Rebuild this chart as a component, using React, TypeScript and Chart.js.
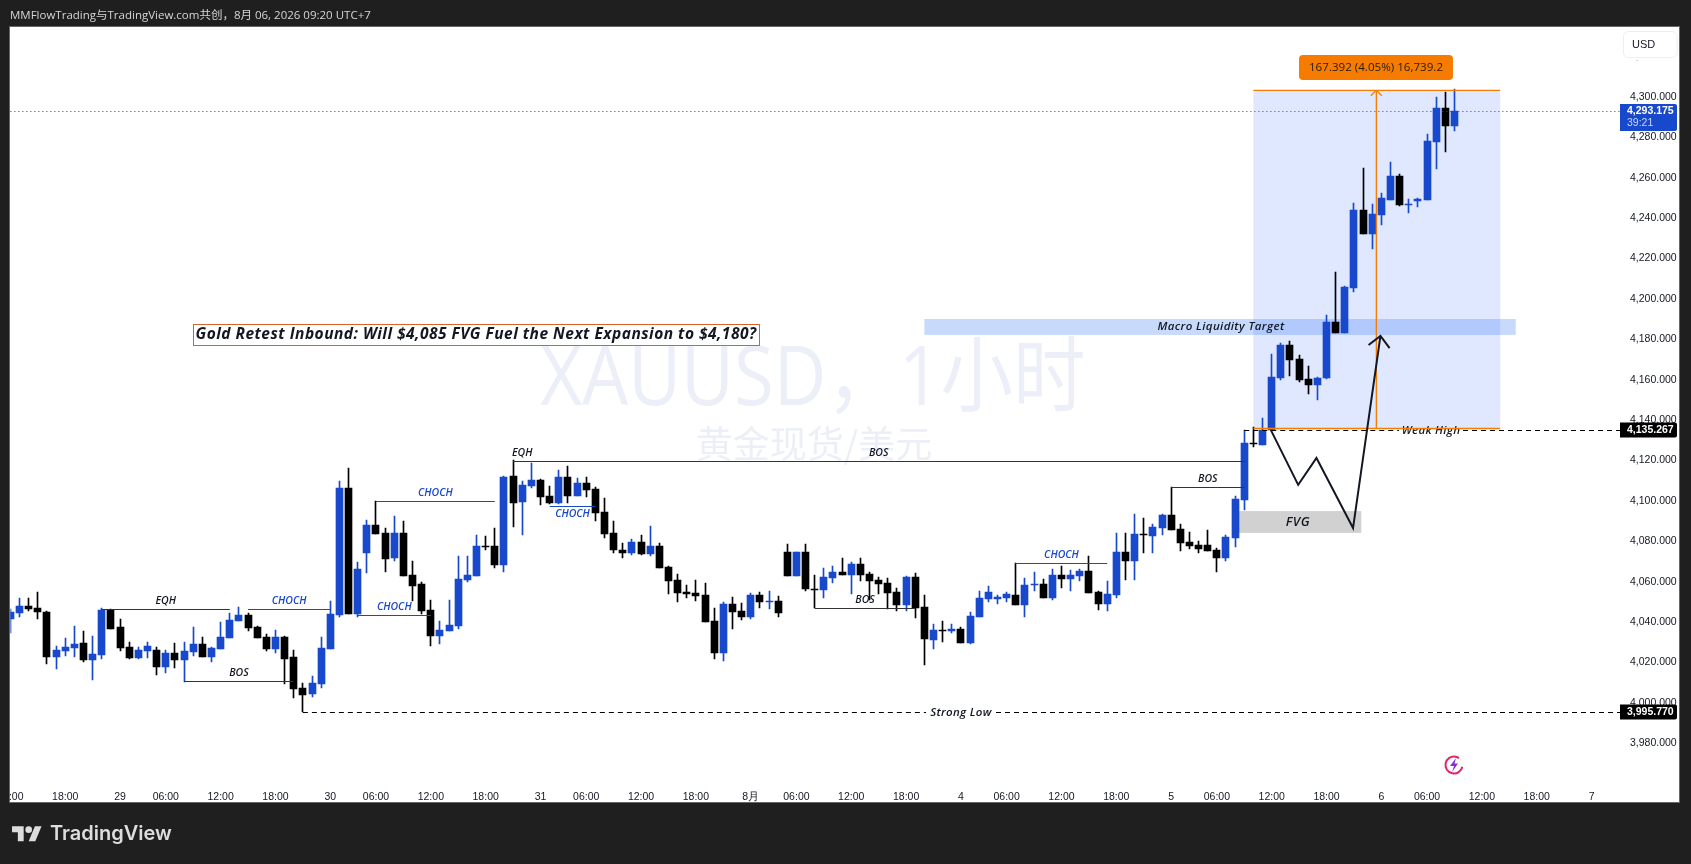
import React, { useEffect, useRef } from 'react';
import { Chart, registerables } from 'chart.js';

Chart.register(...registerables);

const opens = [
  4041.6, 4044.6, 4048.0, 4047.0, 4045.0, 4022.8, 4025.7, 4027.2, 4029.7, 4021.3,
  4023.8, 4046.0, 4037.6, 4027.7, 4022.3, 4025.7, 4026.2, 4017.8, 4024.8, 4021.3,
  4025.3, 4029.2, 4022.8, 4026.7, 4032.2, 4040.6, 4043.6, 4037.6, 4032.7, 4026.7,
  4032.7, 4022.8, 4007.4, 4004.5, 4009.4, 4026.7, 4043.6, 4106.4, 4044.1, 4074.3,
  4088.1, 4084.2, 4071.8, 4084.2, 4063.4, 4058.9, 4046.0, 4033.2, 4035.7, 4038.1,
  4060.9, 4062.9, 4077.4, 4077.7, 4068.3, 4112.4, 4099.5, 4107.4, 4110.4, 4102.5,
  4099.0, 4111.9, 4102.5, 4108.9, 4106.0, 4094.6, 4084.2, 4075.8, 4074.3, 4079.7,
  4073.8, 4077.7, 4067.3, 4060.9, 4055.0, 4054.5, 4053.5, 4040.6, 4024.8, 4049.0,
  4045.6, 4042.6, 4053.5, 4050.0, 4050.5, 4074.8, 4062.9, 4074.8, 4056.6, 4056.0,
  4061.9, 4064.9, 4063.4, 4068.8, 4063.9, 4060.9, 4059.4, 4054.9, 4048.5, 4062.4,
  4047.5, 4031.2, 4035.8, 4035.7, 4036.6, 4029.7, 4042.6, 4051.5, 4051.5, 4052.0,
  4053.5, 4048.5, 4058.4, 4058.9, 4052.0, 4063.4, 4061.4, 4062.9, 4065.4, 4054.9,
  4049.0, 4053.5, 4074.8, 4070.3, 4083.5, 4082.7, 4086.7, 4093.1, 4086.2, 4079.8,
  4078.3, 4078.3, 4075.8, 4071.8, 4081.7, 4100.5, 4128.4, 4127.7, 4135.2, 4160.9,
  4177.2, 4170.3, 4160.4, 4157.4, 4160.9, 4188.6, 4183.2, 4205.4, 4244.1, 4232.2,
  4241.6, 4249.0, 4260.9, 4246.5, 4248.5, 4249.0, 4277.7, 4294.5, 4285.6,
];
const highs = [
  4046.5, 4052.0, 4052.0, 4055.0, 4045.5, 4028.2, 4032.2, 4038.1, 4035.7, 4033.2,
  4046.9, 4046.5, 4041.6, 4030.2, 4027.7, 4030.2, 4027.7, 4026.2, 4029.7, 4030.2,
  4037.6, 4032.7, 4027.7, 4040.1, 4044.6, 4047.5, 4044.6, 4038.1, 4034.2, 4036.2,
  4033.2, 4026.2, 4009.9, 4013.4, 4032.7, 4050.5, 4109.9, 4116.3, 4069.8, 4090.6,
  4100.2, 4086.6, 4092.6, 4090.1, 4070.3, 4059.9, 4051.0, 4040.6, 4051.0, 4072.8,
  4072.8, 4083.2, 4082.7, 4086.6, 4112.4, 4120.1, 4109.9, 4118.8, 4110.9, 4107.4,
  4115.4, 4117.3, 4111.4, 4111.9, 4106.9, 4101.5, 4090.1, 4079.2, 4081.2, 4083.2,
  4087.6, 4079.2, 4067.8, 4063.9, 4058.4, 4060.9, 4059.4, 4047.0, 4050.0, 4052.5,
  4049.5, 4054.5, 4055.0, 4055.5, 4053.0, 4078.7, 4074.8, 4078.7, 4063.4, 4066.8,
  4067.8, 4071.8, 4069.8, 4071.8, 4064.9, 4062.4, 4061.9, 4056.9, 4062.9, 4064.4,
  4053.5, 4039.1, 4040.6, 4039.1, 4037.6, 4045.0, 4055.5, 4057.9, 4053.5, 4055.0,
  4069.3, 4061.9, 4064.9, 4061.4, 4066.3, 4067.8, 4065.9, 4066.3, 4072.8, 4055.5,
  4060.4, 4084.2, 4084.2, 4093.6, 4091.6, 4088.7, 4093.6, 4106.8, 4088.7, 4084.7,
  4080.3, 4085.7, 4076.8, 4083.2, 4102.5, 4135.2, 4136.6, 4141.1, 4172.8, 4178.2,
  4179.2, 4172.3, 4166.8, 4161.4, 4192.1, 4213.4, 4206.4, 4247.5, 4264.8, 4247.0,
  4252.5, 4267.8, 4261.9, 4249.5, 4250.0, 4281.7, 4300.0, 4302.5, 4304.0,
];
const lows = [
  4034.8, 4042.7, 4045.7, 4041.6, 4019.3, 4016.8, 4023.3, 4022.8, 4020.3, 4011.4,
  4021.8, 4036.6, 4025.7, 4021.8, 4021.8, 4022.3, 4013.9, 4014.9, 4017.3, 4010.6,
  4023.3, 4022.8, 4020.3, 4026.7, 4032.2, 4040.6, 4035.7, 4032.2, 4025.7, 4024.8,
  4009.4, 4002.5, 3995.6, 4003.0, 4007.4, 4026.7, 4042.6, 4044.1, 4042.7, 4064.4,
  4083.7, 4064.9, 4070.3, 4062.9, 4050.5, 4044.1, 4028.2, 4029.2, 4035.7, 4036.6,
  4059.9, 4062.9, 4075.8, 4066.8, 4064.9, 4087.1, 4083.2, 4106.4, 4098.0, 4098.5,
  4098.5, 4099.0, 4102.5, 4102.0, 4090.1, 4081.7, 4074.3, 4071.8, 4073.3, 4073.3,
  4072.8, 4066.8, 4054.0, 4050.0, 4052.0, 4050.5, 4040.1, 4021.8, 4020.8, 4036.6,
  4041.1, 4041.6, 4047.0, 4046.5, 4042.6, 4062.9, 4062.9, 4055.5, 4046.9, 4052.0,
  4059.4, 4063.4, 4054.0, 4060.4, 4051.0, 4054.0, 4046.5, 4045.6, 4045.6, 4042.1,
  4018.8, 4026.7, 4030.2, 4034.7, 4029.7, 4029.2, 4042.6, 4050.0, 4049.0, 4050.0,
  4048.5, 4042.6, 4055.5, 4052.0, 4051.0, 4056.9, 4055.5, 4060.4, 4054.5, 4046.0,
  4045.6, 4052.0, 4060.9, 4060.9, 4074.3, 4074.3, 4083.2, 4085.7, 4075.3, 4076.3,
  4074.3, 4075.3, 4064.9, 4070.4, 4077.3, 4095.5, 4126.7, 4127.7, 4135.2, 4159.9,
  4161.9, 4158.9, 4153.0, 4150.0, 4160.4, 4183.2, 4183.2, 4203.5, 4232.2, 4224.7,
  4236.6, 4249.0, 4246.0, 4242.6, 4245.5, 4249.0, 4264.3, 4272.8, 4283.2,
];
const closes = [
  4045.0, 4048.0, 4046.5, 4045.0, 4022.8, 4026.2, 4027.7, 4029.2, 4021.3, 4024.3,
  4046.0, 4036.6, 4027.2, 4022.3, 4026.2, 4028.2, 4017.8, 4024.8, 4021.3, 4025.7,
  4029.2, 4022.8, 4027.2, 4032.7, 4041.1, 4043.6, 4037.1, 4032.2, 4026.7, 4032.7,
  4021.8, 4006.9, 4004.0, 4009.9, 4027.2, 4044.1, 4106.4, 4044.1, 4066.3, 4088.1,
  4083.7, 4071.3, 4084.2, 4062.9, 4057.9, 4045.6, 4033.2, 4036.2, 4038.6, 4061.4,
  4063.4, 4077.7, 4077.0, 4068.3, 4111.9, 4099.0, 4107.9, 4110.4, 4102.0, 4099.0,
  4111.9, 4102.5, 4108.9, 4105.5, 4094.1, 4083.7, 4075.8, 4074.3, 4079.7, 4073.8,
  4077.7, 4066.8, 4060.4, 4054.5, 4054.1, 4053.0, 4040.1, 4024.8, 4049.0, 4045.0,
  4042.6, 4053.5, 4050.0, 4050.4, 4044.6, 4062.9, 4074.8, 4056.4, 4056.1, 4062.4,
  4064.9, 4063.4, 4068.8, 4063.4, 4060.4, 4058.9, 4054.5, 4048.5, 4062.4, 4047.0,
  4031.7, 4036.2, 4035.4, 4036.6, 4029.7, 4043.1, 4052.0, 4055.0, 4052.5, 4054.0,
  4048.5, 4058.4, 4058.8, 4052.0, 4063.4, 4061.4, 4063.4, 4065.4, 4054.5, 4049.0,
  4054.0, 4074.8, 4070.3, 4083.7, 4083.2, 4087.2, 4093.1, 4085.7, 4079.3, 4077.8,
  4076.3, 4075.3, 4071.8, 4082.2, 4101.0, 4128.7, 4128.1, 4135.2, 4161.4, 4177.2,
  4169.8, 4159.9, 4157.4, 4160.9, 4188.6, 4183.2, 4205.9, 4244.1, 4232.2, 4242.1,
  4250.0, 4260.9, 4246.5, 4246.9, 4249.5, 4278.2, 4294.5, 4285.6, 4293.0,
];

// time axis: position in candles, 23 bars per trading day
const slotCount = 177;
const timeTickSlots = [
  0, 6, 12, 17, 23, 29, 35, 40, 46, 52, 58, 63, 69, 75, 81, 86, 92, 98, 104, 109, 115, 121, 127, 132, 138, 144,
  150, 155, 161, 167, 173,
];
const timeTickLabels = [
  '12:00', '18:00', '29', '06:00', '12:00', '18:00', '30', '06:00', '12:00', '18:00', '31', '06:00', '12:00', '18:00',
  '8月', '06:00', '12:00', '18:00', '4', '06:00', '12:00', '18:00', '5', '06:00', '12:00', '18:00', '6', '06:00',
  '12:00', '18:00', '7',
];
const priceTicks = [
  3980, 4000, 4020, 4040, 4060, 4080, 4100, 4120, 4140, 4160, 4180, 4200, 4220, 4240, 4260, 4280, 4300, 4320,
];

// hand drawn market structure levels
const levelLabels = ['EQH', 'CHOCH', 'BOS', 'CHOCH', 'CHOCH', 'EQH', 'BOS', 'CHOCH', 'BOS', 'CHOCH', 'BOS'];
const levelFrom = [10, 26, 19, 38, 40, 55, 55, 59, 88, 110, 127];
const levelTo = [24, 35, 31, 46, 53, 57, 135, 64, 99, 120, 135];
const levelPrices = [4046.5, 4046.7, 4010.7, 4043.5, 4100.2, 4120.0, 4120.0, 4097.7, 4046.9, 4069.3, 4106.8];
const levelTextBelow = [false, false, false, false, false, false, false, true, false, false, false];

const pathSlots = [137.9, 140.9, 142.9, 146.9, 149.9];
const pathPrices = [4135.2, 4108.0, 4121.3, 4086.6, 4181.7];
const arrowSlots = [148.6, 149.9, 150.9];
const arrowPrices = [4177.2, 4181.7, 4175.7];

const measureBox = { from: 136, to: 163, low: 4135.9, high: 4303.3, arrowAt: 149.45 };
const liquidityBand = { from: 100, to: 164.7, low: 4182.2, high: 4190.1 };
const fvgBox = { from: 134, to: 147.8, low: 4084.2, high: 4095 };
const lastPrice = 4293.175;
const weakHigh = { from: 135, price: 4135.267 };
const strongLow = { from: 32, price: 3995.77 };

const BLUE = '#1848CC';
const BLACK = '#000000';
const ORANGE = '#F57C00';
const INK = '#131722';

const plotLeft = 10.4;
const plotRight = 1619;
const axisFont = '"Liberation Sans", Arial, sans-serif';
const noteFont = '"Open Sans", sans-serif';

const snapBars = {
  id: 'snapBars',
  beforeDatasetsDraw(chart: any) {
    chart.getSortedVisibleDatasetMetas().forEach((meta: any) => {
      meta.data.forEach((el: any) => {
        el.x = Math.floor(el.x) + 0.5;
        const top = Math.round(Math.min(el.y, el.base));
        const bottom = Math.round(Math.max(el.y, el.base));
        el.y = top;
        el.base = bottom > top ? bottom : top + 1;
      });
    });
  },
};

const drawNote = (ctx: CanvasRenderingContext2D, text: string, x: number, y: number, color: string, font: string, spacing = '0px') => {
  ctx.font = font;
  (ctx as any).letterSpacing = spacing;
  ctx.fillStyle = color;
  ctx.textAlign = 'center';
  ctx.textBaseline = 'middle';
  ctx.fillText(text, x, y);
  (ctx as any).letterSpacing = '0px';
};

const annotations = {
  id: 'annotations',
  beforeDatasetsDraw(chart: any) {
    const { ctx, scales } = chart;
    const X = (v: number) => scales.x.getPixelForValue(v);
    const Y = (v: number) => scales.y.getPixelForValue(v);
    ctx.save();

    // symbol watermark, squeezed a little because the original face is narrower
    ctx.save();
    ctx.translate(813, 382);
    ctx.scale(0.885, 1);
    drawNote(ctx, 'XAUUSD，1小时', 0, 0, '#ECEFF8', '82px "Open Sans", "Noto Sans CJK SC", sans-serif');
    ctx.restore();
    drawNote(ctx, '黄金现货/美元', 814, 444, '#ECEFF8', '37px "Noto Sans CJK SC", sans-serif');

    ctx.fillStyle = 'rgba(41, 98, 255, 0.15)';
    ctx.fillRect(X(measureBox.from), Y(measureBox.high), X(measureBox.to) - X(measureBox.from), Y(measureBox.low) - Y(measureBox.high));

    ctx.fillStyle = 'rgba(50, 120, 245, 0.27)';
    ctx.fillRect(X(liquidityBand.from), Y(liquidityBand.high), X(liquidityBand.to) - X(liquidityBand.from), Y(liquidityBand.low) - Y(liquidityBand.high));

    ctx.fillStyle = '#D1D1D1';
    ctx.fillRect(X(fvgBox.from), Y(fvgBox.high), X(fvgBox.to) - X(fvgBox.from), Y(fvgBox.low) - Y(fvgBox.high));
    ctx.restore();
  },
  afterDatasetsDraw(chart: any) {
    const { ctx, scales } = chart;
    const X = (v: number) => scales.x.getPixelForValue(v);
    const Y = (v: number) => scales.y.getPixelForValue(v);
    const crisp = (v: number) => Math.round(v) + 0.5;
    const noteStyle = 'italic 600 10.5px ' + noteFont;
    ctx.save();

    // structure levels with their tags
    levelLabels.forEach((label, i) => {
      const color = label === 'CHOCH' ? BLUE : '#333333';
      const y = crisp(Y(levelPrices[i]));
      ctx.strokeStyle = color;
      ctx.lineWidth = 1;
      ctx.beginPath();
      ctx.moveTo(X(levelFrom[i]), y);
      ctx.lineTo(X(levelTo[i]), y);
      ctx.stroke();
      const textX = X((levelFrom[i] + levelTo[i]) / 2);
      drawNote(ctx, label, textX, y + (levelTextBelow[i] ? 8 : -8), label === 'CHOCH' ? BLUE : INK, noteStyle);
    });

    // dashed liquidity lines broken by their tag
    const dashed = (from: number, price: number, tag: string, tagX: number, gap: number) => {
      const y = crisp(Y(price));
      ctx.strokeStyle = BLACK;
      ctx.lineWidth = 1;
      ctx.setLineDash([5, 4]);
      ctx.beginPath();
      ctx.moveTo(X(from), y);
      ctx.lineTo(tagX - gap, y);
      ctx.moveTo(tagX + gap, y);
      ctx.lineTo(plotRight + 1, y);
      ctx.stroke();
      ctx.setLineDash([]);
      drawNote(ctx, tag, tagX, y, INK, 'italic 600 11.5px ' + noteFont, '0.3px');
    };
    dashed(weakHigh.from, weakHigh.price, 'Weak High', 1431, 32);
    dashed(strongLow.from, strongLow.price, 'Strong Low', 961, 35);

    // last price
    ctx.strokeStyle = BLUE;
    ctx.setLineDash([1, 3]);
    ctx.beginPath();
    ctx.moveTo(plotLeft, crisp(Y(lastPrice)));
    ctx.lineTo(plotRight + 1, crisp(Y(lastPrice)));
    ctx.stroke();
    ctx.setLineDash([]);

    // measure tool
    ctx.strokeStyle = ORANGE;
    ctx.lineWidth = 1.3;
    ctx.beginPath();
    ctx.moveTo(X(measureBox.from), Y(measureBox.high));
    ctx.lineTo(X(measureBox.to), Y(measureBox.high));
    ctx.moveTo(X(measureBox.from), Y(measureBox.low));
    ctx.lineTo(X(measureBox.to), Y(measureBox.low));
    ctx.moveTo(X(measureBox.arrowAt), Y(measureBox.low));
    ctx.lineTo(X(measureBox.arrowAt), Y(measureBox.high));
    ctx.moveTo(X(measureBox.arrowAt) - 5.5, Y(measureBox.high) + 5.5);
    ctx.lineTo(X(measureBox.arrowAt), Y(measureBox.high));
    ctx.lineTo(X(measureBox.arrowAt) + 5.5, Y(measureBox.high) + 5.5);
    ctx.stroke();

    ctx.fillStyle = ORANGE;
    ctx.beginPath();
    ctx.roundRect(1299, 55, 154, 25, 4);
    ctx.fill();
    drawNote(ctx, '167.392 (4.05%) 16,739.2', 1376, 67.5, '#2A1A08', '11.6px ' + noteFont);

    drawNote(ctx, 'Macro Liquidity Target', 1221, 327, INK, 'italic 600 11.5px ' + noteFont, '0.4px');
    drawNote(ctx, 'FVG', 1298, 522, INK, 'italic 600 13px ' + noteFont, '0.5px');

    // projected path
    ctx.strokeStyle = INK;
    ctx.lineWidth = 2;
    ctx.lineJoin = 'miter';
    ctx.beginPath();
    pathSlots.forEach((s, i) => (i ? ctx.lineTo(X(s), Y(pathPrices[i])) : ctx.moveTo(X(s), Y(pathPrices[i]))));
    ctx.stroke();
    ctx.beginPath();
    arrowSlots.forEach((s, i) => (i ? ctx.lineTo(X(s), Y(arrowPrices[i])) : ctx.moveTo(X(s), Y(arrowPrices[i]))));
    ctx.stroke();

    // headline box
    ctx.fillStyle = '#FFFFFF';
    ctx.fillRect(192, 324, 568, 22);
    ctx.strokeStyle = '#D9622B';
    ctx.lineWidth = 1;
    ctx.strokeRect(193.5, 324.5, 566, 21);
    drawNote(ctx, 'Gold Retest Inbound: Will $4,085 FVG Fuel the Next Expansion to $4,180?', 476, 335, INK, 'italic 700 15.5px ' + noteFont, '0.48px');

    // ad icon
    ctx.strokeStyle = '#E0246E';
    ctx.lineWidth = 2;
    ctx.beginPath();
    ctx.arc(1454, 765, 8.5, 0.2, Math.PI * 1.7);
    ctx.stroke();
    ctx.fillStyle = '#8A2BE2';
    ctx.beginPath();
    ctx.moveTo(1456, 758);
    ctx.lineTo(1450, 766);
    ctx.lineTo(1454, 766);
    ctx.lineTo(1452, 772);
    ctx.lineTo(1458, 763.5);
    ctx.lineTo(1454.5, 763.5);
    ctx.closePath();
    ctx.fill();
    ctx.restore();
  },
  afterDraw(chart: any) {
    const { ctx, scales } = chart;
    const Y = (v: number) => scales.y.getPixelForValue(v);
    const price = (text: string, v: number, fill: string) => {
      const y = Math.round(Y(v));
      ctx.fillStyle = fill;
      ctx.beginPath();
      ctx.roundRect(1620, y - 7.5, 57, 15, [0, 2, 2, 0]);
      ctx.fill();
      ctx.font = '700 10.5px ' + axisFont;
      ctx.fillStyle = '#FFFFFF';
      ctx.textAlign = 'left';
      ctx.textBaseline = 'middle';
      ctx.fillText(text, 1627, y);
    };
    ctx.save();
    price('4,135.267', weakHigh.price, BLACK);
    price('3,995.770', strongLow.price, BLACK);

    // last price tag with the bar countdown
    ctx.fillStyle = BLUE;
    ctx.beginPath();
    ctx.roundRect(1620, 104, 57, 27, [0, 2, 2, 0]);
    ctx.fill();
    ctx.font = '700 10.5px ' + axisFont;
    ctx.fillStyle = '#FFFFFF';
    ctx.textAlign = 'left';
    ctx.textBaseline = 'middle';
    ctx.fillText('4,293.175', 1627, 111);
    ctx.font = '10.5px ' + axisFont;
    ctx.fillStyle = '#C9D6F7';
    ctx.fillText('39:21', 1627, 123);

    // currency button sits on top of the 4,320 tick
    ctx.fillStyle = '#FFFFFF';
    ctx.fillRect(1620, 48, 59, 12);
    ctx.strokeStyle = '#EEEEEE';
    ctx.lineWidth = 1;
    ctx.beginPath();
    ctx.roundRect(1623.5, 31.5, 53.5, 26, 5);
    ctx.fill();
    ctx.stroke();
    ctx.font = '11px ' + axisFont;
    ctx.fillStyle = INK;
    ctx.fillText('USD', 1632, 44.5);
    ctx.restore();
  },
};

const XauChart: React.FC = () => {
  const canvasRef = useRef<HTMLCanvasElement>(null);

  useEffect(() => {
    if (!canvasRef.current) return;
    const barColors = closes.map((c, i) => (c >= opens[i] ? BLUE : BLACK));

    const chart = new Chart(canvasRef.current, {
      type: 'bar',
      data: {
        labels: Array.from({ length: slotCount }, (_, i) => i),
        datasets: [
          {
            label: 'Body',
            data: opens.map((o, i) => [o, closes[i]]) as any,
            backgroundColor: barColors,
            barThickness: 7,
            minBarLength: 1,
            grouped: false,
          },
          {
            label: 'Wick',
            data: lows.map((l, i) => [l, highs[i]]) as any,
            backgroundColor: barColors,
            barThickness: 1,
            grouped: false,
          },
        ],
      },
      options: {
        responsive: false,
        animation: false,
        events: [],
        layout: { padding: { left: plotLeft, top: 27, right: 11, bottom: 61 } },
        plugins: { legend: { display: false }, tooltip: { enabled: false } },
        scales: {
          x: {
            type: 'category',
            offset: false,
            grid: { display: false },
            border: { display: false },
            afterFit: (scale: any) => {
              scale.height = 28;
              scale.paddingLeft = 0;
              scale.paddingRight = 0;
            },
            ticks: {
              autoSkip: false,
              maxRotation: 0,
              padding: 8,
              color: INK,
              font: { family: axisFont, size: 10.5 },
              callback: (value: any) => {
                const at = timeTickSlots.indexOf(Number(value));
                return at >= 0 ? timeTickLabels[at] : '';
              },
            },
          },
          y: {
            position: 'right',
            min: 3964.36,
            max: 4334.65,
            grid: { display: false },
            border: { display: false },
            afterBuildTicks: (scale: any) => {
              scale.ticks = priceTicks.map((value) => ({ value }));
            },
            afterFit: (scale: any) => {
              scale.width = 61;
              scale.paddingTop = 0;
              scale.paddingBottom = 0;
            },
            ticks: {
              padding: 3,
              color: INK,
              font: { family: axisFont, size: 10.5 },
              callback: (value: any) =>
                Number(value).toLocaleString('en-US', { minimumFractionDigits: 3, maximumFractionDigits: 3 }),
            },
          },
        },
      },
      plugins: [snapBars, annotations],
    } as any);

    return () => {
      chart.destroy();
    };
  }, []);

  return (
    <div style={{ position: 'fixed', left: 0, top: 0, width: 1691, height: 864, background: '#1F1F1F', overflow: 'hidden' }}>
      <div
        style={{
          position: 'absolute',
          left: 10,
          top: 27,
          width: 1669,
          height: 775,
          background: '#FFFFFF',
          boxShadow: '0 0 0 1px #666666',
        }}
      />
      <canvas ref={canvasRef} width={1691} height={864} style={{ position: 'absolute', left: 0, top: 0 }} />
      <div style={{ position: 'absolute', left: 0, top: 27, width: 9, height: 776, background: '#1F1F1F' }} />
      <div
        style={{
          position: 'absolute',
          left: 10,
          top: 7,
          color: '#D6D6D6',
          whiteSpace: 'nowrap',
          font: '11.5px/16px "Open Sans", "Noto Sans CJK SC", sans-serif',
        }}
      >
        MMFlowTrading与TradingView.com共创，8月 06, 2026 09:20 UTC+7
      </div>
      <svg
        viewBox="0 0 36 28"
        width={30}
        height={23.3}
        style={{ position: 'absolute', left: 12, top: 823 }}
        fill="#DDDDDD"
      >
        <path d="M14 22H7V11H0V4h14v18zM28 22h-8l7.5-18h8L28 22z" />
        <circle cx={20} cy={8} r={4} />
      </svg>
      <div
        style={{
          position: 'absolute',
          left: 50,
          top: 820,
          color: '#DDDDDD',
          whiteSpace: 'nowrap',
          font: '600 20px/26px Inter, sans-serif',
        }}
      >
        TradingView
      </div>
    </div>
  );
};

export default function App() {
  return <XauChart />;
}
